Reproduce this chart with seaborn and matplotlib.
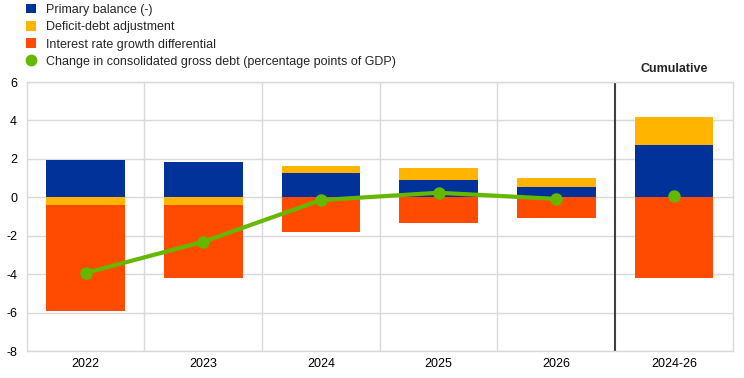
import numpy as np
import pandas as pd
import matplotlib
matplotlib.use('Agg')
import matplotlib.pyplot as plt
import seaborn as sns
from matplotlib.lines import Line2D
from matplotlib.patches import Patch

# 数据
categories = ['2022', '2023', '2024', '2025', '2026', '2024-26']
primary_balance = [1.94, 1.84, 1.26, 0.90, 0.54, 2.72]
deficit_debt = [-0.40, -0.40, 0.37, 0.62, 0.46, 1.46]
interest_growth = [-5.50, -3.80, -1.79, -1.35, -1.08, -4.20]
debt_years = ['2022', '2023', '2024', '2025', '2026']
debt_change = [-3.93, -2.31, -0.14, 0.24, -0.08]
debt_change_cum = 0.07

series_names = ['Primary balance (-)', 'Deficit-debt adjustment',
                'Interest rate growth differential']
colors = ['#003299', '#FFB400', '#FF4B00']
line_color = '#65B800'

sns.set_style('white')
plt.rcParams['font.family'] = ['Liberation Sans', 'DejaVu Sans']
plt.rcParams['axes.unicode_minus'] = False

fig = plt.figure(figsize=(7.44, 3.78), dpi=100)
ax = fig.add_axes([0.036, 0.071, 0.949, 0.712])

# 堆叠柱状图 (正负分开累计)
pos_base = np.zeros(len(categories))
neg_base = np.zeros(len(categories))
for name, vals, col in zip(series_names, [primary_balance, deficit_debt, interest_growth], colors):
    vals = np.array(vals)
    bottom = np.where(vals >= 0, pos_base, neg_base)
    df = pd.DataFrame({'cat': categories, 'val': vals})
    sns.barplot(data=df, x='cat', y='val', bottom=bottom, color=col,
                width=0.67, linewidth=0, saturation=1, ax=ax)
    pos_base = pos_base + np.where(vals >= 0, vals, 0)
    neg_base = neg_base + np.where(vals < 0, vals, 0)

# 债务变化折线
sns.lineplot(x=np.arange(len(debt_years)), y=debt_change, color=line_color,
             linewidth=3, marker='o', markersize=9, markeredgewidth=0, ax=ax, zorder=5)
sns.scatterplot(x=[len(categories) - 1], y=[debt_change_cum], color=line_color,
                s=80, linewidth=0, ax=ax, zorder=5)

ax.set_ylim(-8, 6)
ax.set_xlim(-0.5, len(categories) - 0.5)
ax.set_yticks(np.arange(-8, 7, 2))
ax.set_xlabel('')
ax.set_ylabel('')
ax.tick_params(axis='both', length=0, labelsize=9, colors='#000000')
ax.tick_params(axis='y', pad=7)
ax.tick_params(axis='x', pad=5)

ax.grid(axis='y', color='#d9d9d9', linewidth=1)
for xv in np.arange(0.5, len(categories) - 1, 1):
    if xv == len(categories) - 1.5:
        ax.axvline(xv, color='#404040', linewidth=1.5, zorder=0.6)
    else:
        ax.axvline(xv, color='#d9d9d9', linewidth=1, zorder=0.5)
ax.set_axisbelow(True)
for sp in ax.spines.values():
    sp.set_color('#d9d9d9')
    sp.set_linewidth(1)

ax.text(len(categories) - 1, 6.35, 'Cumulative', ha='center', va='bottom',
        fontsize=9, fontweight='bold')

handles = [Patch(facecolor=c, edgecolor='none') for c in colors]
handles.append(Line2D([], [], marker='o', color=line_color, linestyle='none', markersize=7.5))
labels = series_names + ['Change in consolidated gross debt (percentage points of GDP)']
fig.legend(handles, labels, loc='upper left', bbox_to_anchor=(0.025, 1.01), frameon=False,
           fontsize=9, handlelength=0.8, handleheight=0.8, handletextpad=0.8,
           labelspacing=0.42, borderaxespad=0.2)

fig.savefig('out.png', dpi=100)
